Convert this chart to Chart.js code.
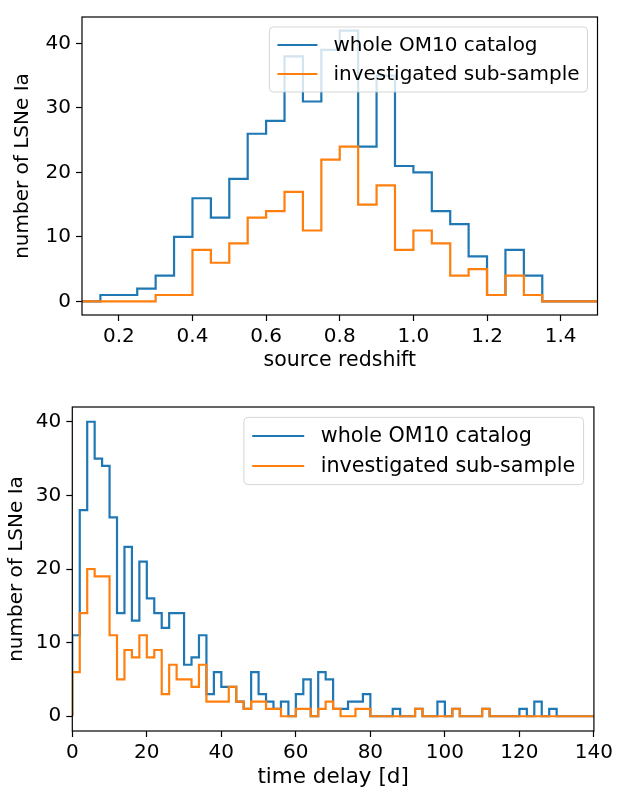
<!DOCTYPE html>
<html>
<head>
<meta charset="utf-8">
<script src="https://cdn.jsdelivr.net/npm/chart.js@4.4.0/dist/chart.umd.min.js"></script>
<style>
  html, body { margin: 0; padding: 0; background: #fff; }
  #wrap { position: relative; width: 617px; height: 794px; }
  canvas { position: absolute; left: 0; }
  #top { top: 0; }
  #bottom { top: 390px; }
</style>
</head>
<body>
<div id="wrap">
  <canvas id="top" width="617" height="390"></canvas>
  <canvas id="bottom" width="617" height="404"></canvas>
</div>
<script>
// histogram 1: source redshift, bins of 0.05 from 0.1 to 1.5
const zBinStart = 0.1;
const zBinWidth = 0.05;
const zWhole = [0, 1, 1, 2, 4, 10, 16, 13, 19, 26, 28, 38, 31, 39, 42, 24, 35, 21, 20, 14, 12, 7, 1, 8, 4, 0, 0, 0];
const zSub   = [0, 0, 0, 0, 1, 1, 8, 6, 9, 13, 14, 17, 11, 22, 24, 15, 18, 8, 11, 9, 4, 5, 1, 4, 1, 0, 0, 0];
const zTicksX = [0.2, 0.4, 0.6, 0.8, 1.0, 1.2, 1.4];
const zTicksY = [0, 10, 20, 30, 40];

// histogram 2: time delay [d], bins of 2 days from 0 to 140
const tdBinStart = 0;
const tdBinWidth = 2;
const tdWhole = [11, 28, 40, 35, 34, 27, 14, 23, 13, 21,
                 16, 14, 12, 14, 14, 7, 8, 11, 3, 6,
                 4, 4, 2, 1, 6, 3, 2, 1, 2, 0,
                 3, 5, 0, 6, 5, 1, 1, 2, 2, 3,
                 0, 0, 0, 1, 0, 0, 1, 0, 0, 2,
                 0, 1, 0, 0, 0, 1, 0, 0, 0, 0,
                 1, 0, 2, 0, 1, 0, 0, 0, 0, 0];
const tdSub   = [6, 14, 20, 19, 19, 11, 5, 9, 8, 11,
                 8, 9, 3, 7, 5, 5, 4, 7, 2, 2,
                 2, 4, 2, 1, 2, 2, 1, 1, 0, 0,
                 1, 1, 0, 1, 2, 1, 0, 0, 1, 1,
                 0, 0, 0, 0, 0, 0, 1, 0, 0, 0,
                 0, 1, 0, 0, 0, 1, 0, 0, 0, 0,
                 0, 0, 0, 0, 0, 0, 0, 0, 0, 0];
const tdTicksX = [0, 20, 40, 60, 80, 100, 120, 140];
const tdTicksY = [0, 10, 20, 30, 40];

const seriesNames = ['whole OM10 catalog', 'investigated sub-sample'];
const BLUE = '#1f77b4';
const ORANGE = '#ff7f0e';

Chart.defaults.font.family = "'DejaVu Sans', sans-serif";
Chart.defaults.font.size = 20;
Chart.defaults.color = '#000';

// step outline like matplotlib histtype='step'
function stepPoints(start, width, counts) {
  const pts = [{ x: start, y: 0 }];
  counts.forEach((c, i) => pts.push({ x: start + i * width, y: c }));
  pts.push({ x: start + counts.length * width, y: 0 });
  return pts;
}

function framePlugin(leg) {
  return {
    id: 'frame',
    afterDatasetsDraw(chart) {
      const { ctx, chartArea: a } = chart;
      ctx.save();
      ctx.strokeStyle = '#000';
      ctx.lineWidth = 1.2;
      ctx.strokeRect(a.left, a.top, a.right - a.left, a.bottom - a.top);
      ctx.restore();
    },
    afterDraw(chart) {
      // legend box, upper right
      const { ctx, chartArea: a } = chart;
      const fs = leg.fs;
      ctx.save();
      ctx.font = fs + "px 'DejaVu Sans'";
      const tw = Math.max(...seriesNames.map(s => ctx.measureText(s).width));
      const pad = 0.4 * fs, hl = leg.hl, htp = 0.8 * fs, rowH = fs, gap = 0.45 * fs;
      const w = pad + hl + htp + tw + pad;
      const h = pad * 2 + rowH * 2 + gap;
      const x0 = a.right - 0.5 * fs - w;
      const y0 = a.top + 0.5 * fs;
      ctx.beginPath();
      ctx.roundRect(x0, y0, w, h, 4);
      ctx.fillStyle = 'rgba(255,255,255,0.8)';
      ctx.fill();
      ctx.strokeStyle = 'rgba(204,204,204,0.8)';
      ctx.lineWidth = 1;
      ctx.stroke();
      const colors = [BLUE, ORANGE];
      seriesNames.forEach((name, i) => {
        const cy = y0 + pad + rowH / 2 + i * (rowH + gap);
        ctx.strokeStyle = colors[i];
        ctx.lineWidth = 2.2;
        ctx.beginPath();
        ctx.moveTo(x0 + pad, cy);
        ctx.lineTo(x0 + pad + hl, cy);
        ctx.stroke();
        ctx.fillStyle = '#000';
        ctx.textBaseline = 'middle';
        ctx.fillText(name, x0 + pad + hl + htp, cy + 1);
      });
      ctx.restore();
    }
  };
}

function makeHist(canvasId, opt) {
  const datasets = [
    { label: seriesNames[0], data: stepPoints(opt.start, opt.width, opt.whole), borderColor: BLUE, order: 1 },
    { label: seriesNames[1], data: stepPoints(opt.start, opt.width, opt.sub), borderColor: ORANGE, order: 0 }
  ].map(d => Object.assign(d, {
    stepped: true, pointRadius: 0, borderWidth: 2.2, fill: false,
    borderJoinStyle: 'miter', borderCapStyle: 'butt'
  }));

  return new Chart(document.getElementById(canvasId), {
    type: 'line',
    data: { datasets },
    options: {
      responsive: false,
      animation: false,
      devicePixelRatio: 1,
      layout: { padding: opt.padding },
      plugins: { legend: { display: false }, tooltip: { enabled: false } },
      scales: {
        x: {
          type: 'linear', min: opt.xMin, max: opt.xMax,
          afterBuildTicks: s => { s.ticks = opt.ticksX.map(v => ({ value: v })); },
          afterFit: s => { s.height = opt.xHeight; },
          ticks: { callback: opt.xFmt, padding: 4, maxRotation: 0, autoSkip: false, color: '#000' },
          grid: { drawOnChartArea: false, tickLength: 6, tickColor: '#000', tickWidth: 1.2 },
          border: { display: false },
          title: { display: true, text: opt.xTitle, color: '#000', font: { size: opt.titleSize },
                   padding: { top: 0, bottom: opt.xTitlePad } }
        },
        y: {
          type: 'linear', min: opt.yMin, max: opt.yMax,
          afterBuildTicks: s => { s.ticks = opt.ticksY.map(v => ({ value: v })); },
          afterFit: s => { s.width = opt.yWidth; },
          ticks: { padding: 5, color: '#000' },
          grid: { drawOnChartArea: false, tickLength: 6, tickColor: '#000', tickWidth: 1.2 },
          border: { display: false },
          title: { display: true, text: 'number of LSNe Ia', color: '#000', font: { size: 20 },
                   padding: { top: opt.yTitlePad, bottom: 0 } }
        }
      }
    },
    plugins: [framePlugin(opt.legend)]
  });
}

makeHist('top', {
  start: zBinStart, width: zBinWidth, whole: zWhole, sub: zSub,
  xMin: 0.1, xMax: 1.5, yMin: -2.1, yMax: 44.1,
  ticksX: zTicksX, ticksY: zTicksY, xFmt: v => Number(v).toFixed(1),
  xTitle: 'source redshift', titleSize: 20.5,
  padding: { top: 4, right: 19.5, left: 0, bottom: 0 },
  xHeight: 75, yWidth: 82, xTitlePad: 17, yTitlePad: 11,
  legend: { fs: 20, hl: 40 }
});

makeHist('bottom', {
  start: tdBinStart, width: tdBinWidth, whole: tdWhole, sub: tdSub,
  xMin: 0, xMax: 140, yMin: -2, yMax: 42,
  ticksX: tdTicksX, ticksY: tdTicksY, xFmt: v => String(v),
  xTitle: 'time delay [d]', titleSize: 21.5,
  padding: { top: 15, right: 22, left: 0, bottom: 0 },
  xHeight: 63, yWidth: 72.3, xTitlePad: 4, yTitlePad: 5,
  legend: { fs: 20.7, hl: 52 }
});
</script>
</body>
</html>
